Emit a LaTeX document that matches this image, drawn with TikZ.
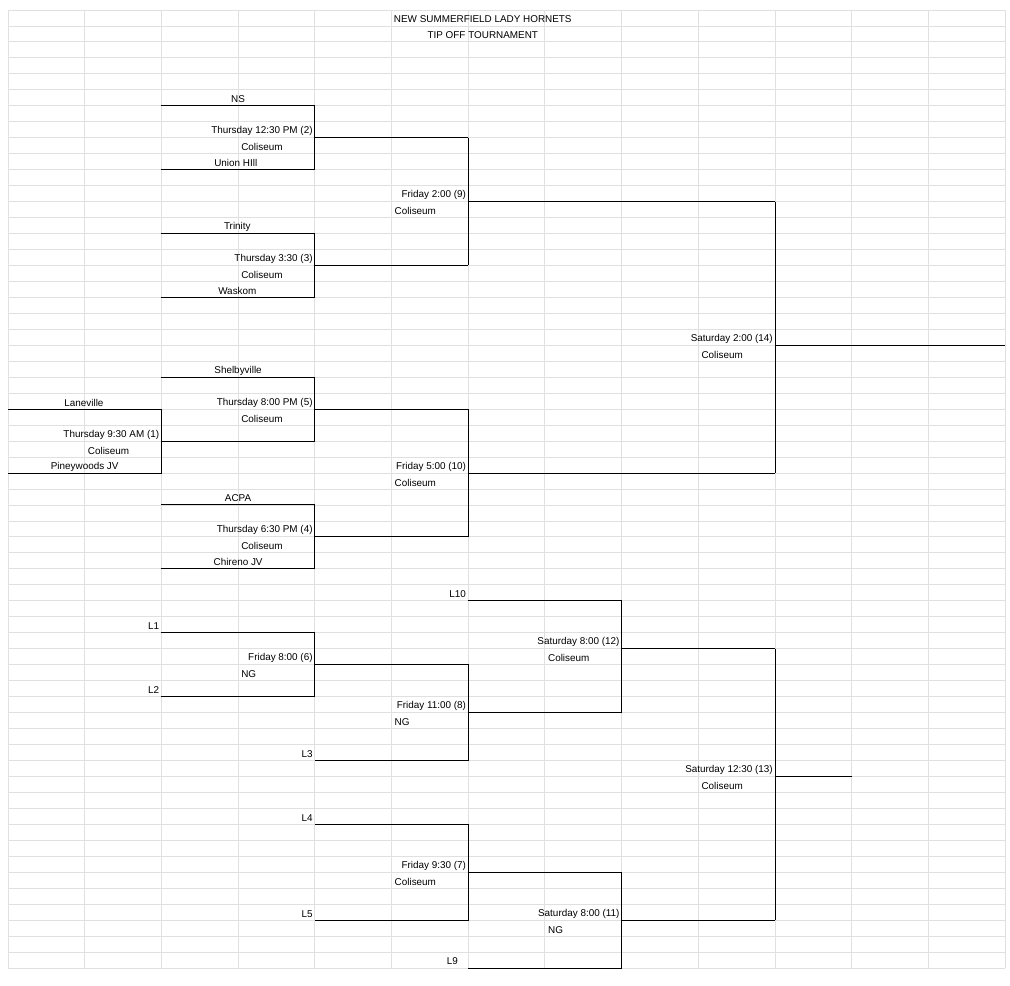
\documentclass[tikz,border=0pt]{standalone}
\usepackage{fontspec}
\setmainfont{Liberation Sans}
\begin{document}
\begin{tikzpicture}[x=76.7pt,y=-15.967pt,
  grid/.style={draw=black!12,line width=0.9pt},
  br/.style={draw=black,line width=1pt},
  txt/.style={inner sep=0pt,yshift=-1.5pt,font=\fontsize{9.9}{12}\selectfont},
  rt/.style={txt,anchor=east,xshift=-2pt},
  lt/.style={txt,anchor=west,xshift=3pt}]
\useasboundingbox[fill=white] (-0.1043,-0.6263) rectangle (13.0639,61.064);
% grid
\foreach \k in {0,...,60} \draw[grid] (0,\k) -- (13,\k);
\foreach \c in {0,...,13} \draw[grid] (\c,0) -- (\c,60);
% title
\node[txt] (t1) at (6.19,0.5) {NEW SUMMERFIELD LADY HORNETS};
\node[txt] (t2) at (6.19,1.5) {TIP OFF TOURNAMENT};
% upper bracket
\draw[br] (2,6) -- (4,6) -- (4,10) -- (2,10);
\draw[br] (4,8) -- (6,8);
\draw[br] (2,14) -- (4,14) -- (4,18) -- (2,18);
\draw[br] (4,16) -- (6,16);
\draw[br] (6,8) -- (6,16);
\draw[br] (6,12) -- (10,12);
\draw[br] (0,25) -- (2,25) -- (2,29) -- (0,29);
\draw[br] (2,23) -- (4,23) -- (4,27) -- (2,27);
\draw[br] (4,25) -- (6,25);
\draw[br] (2,31) -- (4,31) -- (4,35) -- (2,35);
\draw[br] (4,33) -- (6,33);
\draw[br] (6,25) -- (6,33);
\draw[br] (6,29) -- (10,29);
\draw[br] (10,12) -- (10,29);
\draw[br] (10,21) -- (13,21);
% consolation
\draw[br] (6,37) -- (8,37) -- (8,44) -- (6,44);
\draw[br] (2,39) -- (4,39) -- (4,43) -- (2,43);
\draw[br] (4,41) -- (6,41) -- (6,47) -- (4,47);
\draw[br] (8,40) -- (10,40);
\draw[br] (4,51) -- (6,51) -- (6,57) -- (4,57);
\draw[br] (6,54) -- (8,54) -- (8,60) -- (6,60);
\draw[br] (8,57) -- (10,57);
\draw[br] (10,40) -- (10,57);
\draw[br] (10,48) -- (11,48);
% texts
\node[txt] (a1) at (3,5.5) {NS};
\node[rt] (a2) at (4,7.5) {Thursday 12:30 PM (2)};
\node[lt] (a3) at (3,8.5) {Coliseum};
\node[txt] (a4) at (2.97,9.5) {Union HIll};
\node[rt] (b1) at (6,11.5) {Friday 2:00 (9)};
\node[lt] (b2) at (5,12.5) {Coliseum};
\node[txt] (a5) at (2.99,13.5) {Trinity};
\node[rt] (a6) at (4,15.5) {Thursday 3:30 (3)};
\node[lt] (a7) at (3,16.5) {Coliseum};
\node[txt] (a8) at (2.99,17.5) {Waskom};
\node[rt] (c1) at (10,20.5) {Saturday 2:00 (14)};
\node[lt] (c2) at (9,21.5) {Coliseum};
\node[txt] (d1) at (3,22.5) {Shelbyville};
\node[txt] (d2) at (0.99,24.5) {Laneville};
\node[rt] (d3) at (4,24.5) {Thursday 8:00 PM (5)};
\node[lt] (d4) at (3,25.5) {Coliseum};
\node[rt] (d5) at (2,26.5) {Thursday 9:30 AM (1)};
\node[lt] (d6) at (1,27.5) {Coliseum};
\node[txt] (d7) at (1,28.5) {Pineywoods JV};
\node[rt] (d8) at (6,28.5) {Friday 5:00 (10)};
\node[lt] (d9) at (5,29.5) {Coliseum};
\node[txt] (e1) at (3,30.5) {ACPA};
\node[rt] (e2) at (4,32.5) {Thursday 6:30 PM (4)};
\node[lt] (e3) at (3,33.5) {Coliseum};
\node[txt] (e4) at (3,34.5) {Chireno JV};
\node[rt] (f1) at (6,36.5) {L10};
\node[rt] (f2) at (2,38.5) {L1};
\node[rt] (f3) at (8,39.5) {Saturday 8:00 (12)};
\node[rt] (f4) at (4,40.5) {Friday 8:00 (6)};
\node[lt] (f5) at (7,40.5) {Coliseum};
\node[lt] (f6) at (3,41.5) {NG};
\node[rt] (f7) at (2,42.5) {L2};
\node[rt] (f8) at (6,43.5) {Friday 11:00 (8)};
\node[lt] (f9) at (5,44.5) {NG};
\node[rt] (g1) at (4,46.5) {L3};
\node[rt] (g2) at (10,47.5) {Saturday 12:30 (13)};
\node[lt] (g3) at (9,48.5) {Coliseum};
\node[rt] (g4) at (4,50.5) {L4};
\node[rt] (g5) at (6,53.5) {Friday 9:30 (7)};
\node[lt] (g6) at (5,54.5) {Coliseum};
\node[rt] (g7) at (4,56.5) {L5};
\node[rt] (g8) at (8,56.5) {Saturday 8:00 (11)};
\node[lt] (g9) at (7,57.5) {NG};
\node[rt,xshift=-8pt] (h1) at (6,59.5) {L9};
\end{tikzpicture}
\end{document}
